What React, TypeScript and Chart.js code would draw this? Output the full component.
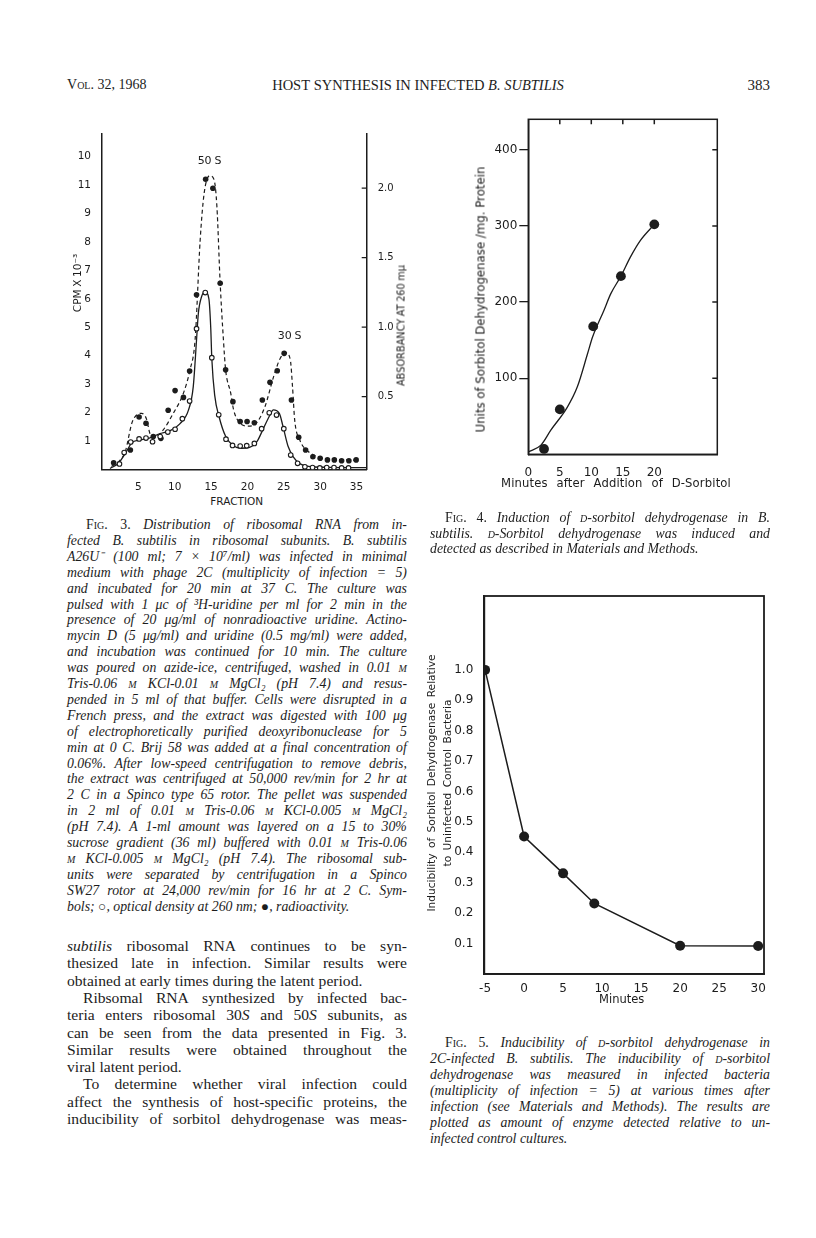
import React, { useEffect, useRef } from "react";
import { Chart, registerables } from "chart.js";
Chart.register(...registerables);

// ---------------- Fig. 3 data ----------------
const fig3FilledFraction = [1.6, 3.9, 5.1, 6.05, 7.05, 8.1, 9.1, 10.05, 11.2, 12.05, 13.0, 14.25, 15.25, 16.25, 17.0, 18.0, 19.0, 19.95, 20.95, 22.05, 23.1, 24.1, 25.05, 26.05, 27.05, 28.0, 29.0, 30.0, 31.0, 31.95, 32.95, 33.95, 34.95];
const fig3FilledCpm = [0.23, 0.68, 1.84, 1.62, 1.15, 1.09, 2.08, 2.77, 2.53, 3.46, 6.14, 10.21, 9.89, 6.55, 3.5, 2.38, 1.68, 1.68, 1.64, 2.44, 3.06, 3.47, 4.08, 2.44, 1.13, 0.68, 0.44, 0.39, 0.33, 0.33, 0.3, 0.3, 0.33];
const fig3OpenFraction = [2.4, 3.05, 3.95, 5.1, 6.05, 6.95, 8.0, 9.05, 10.05, 11.05, 12.05, 13.0, 14.2, 15.1, 16.05, 17.05, 17.95, 19.0, 19.9, 20.95, 21.95, 23.0, 24.0, 25.0, 25.95, 26.9, 27.9, 28.95, 29.95, 30.9, 31.9, 32.95, 33.9];
const fig3OpenAbs = [0.19, 0.59, 0.96, 1.07, 1.1, 0.97, 1.15, 1.31, 1.41, 1.78, 2.4, 4.95, 6.22, 3.93, 1.92, 1.06, 0.84, 0.82, 0.83, 0.91, 1.43, 1.99, 1.91, 1.43, 0.5, 0.21, 0.09, 0.06, 0.05, 0.06, 0.06, 0.05, 0.05];
// hand-drawn curves
const fig3DashX = [1.3, 2.4, 3.2, 4.1, 4.8, 5.45, 6.1, 6.6, 7.2, 8.4, 9.8, 11.2, 12.1, 12.8, 13.5, 14.05, 14.8, 15.4, 15.8, 16.25, 16.7, 17.0, 17.7, 18.1, 19.0, 20.1, 21.2, 22.4, 23.6, 24.5, 25.3, 25.9, 26.2, 26.5, 27.2, 28.4, 30.0, 32.0, 35.0];
const fig3DashY = [0.1, 0.3, 0.62, 1.62, 1.92, 1.97, 1.78, 1.25, 1.12, 1.38, 1.97, 2.68, 3.5, 4.55, 8.07, 9.72, 10.33, 10.2, 9.25, 6.55, 4.55, 3.5, 2.68, 2.09, 1.62, 1.52, 1.62, 2.2, 3.26, 3.9, 4.1, 3.85, 2.9, 1.73, 1.03, 0.62, 0.42, 0.35, 0.32];
const fig3SolidX = [1.1, 2.25, 3.2, 4.1, 5.2, 6.5, 7.9, 9.35, 10.7, 11.9, 12.55, 13.0, 13.25, 13.7, 14.2, 14.7, 14.95, 15.1, 15.5, 16.1, 17.0, 18.1, 19.2, 20.3, 21.3, 22.2, 23.1, 23.55, 24.4, 24.9, 25.6, 26.3, 27.2, 28.9, 31, 34, 36.4];
const fig3SolidY = [0.03, 0.21, 0.56, 0.93, 1.03, 1.1, 1.25, 1.36, 1.6, 2.09, 2.91, 4.55, 5.49, 6.08, 6.25, 6.0, 5.0, 3.9, 2.6, 1.85, 1.16, 0.82, 0.74, 0.77, 0.97, 1.44, 1.91, 2.09, 1.96, 1.5, 0.8, 0.44, 0.2, 0.09, 0.07, 0.06, 0.06];
const fig3XTicks = [5, 10, 15, 20, 25, 30, 35];
const fig3YTicks = [1, 2, 3, 4, 5, 6, 7, 8, 9, 10, 11];
const fig3YTickLabels = ["1", "2", "3", "4", "5", "6", "7", "8", "9", "11", "10"];
const fig3RightTicks = [0.5, 1.0, 1.5, 2.0];
const fig3RightTickLabels = ["0.5", "1.0", "1.5", "2.0"];

// ---------------- Fig. 4 data ----------------
const fig4Minutes = [2.5, 5, 10.3, 14.7, 20];
const fig4Units = [7, 59, 168, 234, 302];
const fig4CurveX = [0, 2, 3.6, 6.2, 7.8, 9.4, 10.2, 12, 13.1, 14.7, 16.2, 17.8, 20];
const fig4CurveY = [3, 12, 32, 62, 89, 132, 154, 189, 211, 234, 259, 281, 302];
const fig4XTicks = [0, 5, 10, 15, 20];
const fig4YTicks = [100, 200, 300, 400];
const fig4TopTicks = [5, 10, 15, 20];

// ---------------- Fig. 5 data ----------------
const fig5Minutes = [-5, 0, 5, 9, 20, 30];
const fig5Inducibility = [1.0, 0.452, 0.331, 0.232, 0.093, 0.092];
const fig5XTicks = [-5, 0, 5, 10, 15, 20, 25, 30];
const fig5YTicks = [0.1, 0.2, 0.3, 0.4, 0.5, 0.6, 0.7, 0.8, 0.9, 1.0];
const fig5YTickLabels = ["0.1", "0.2", "0.3", "0.4", "0.5", "0.6", "0.7", "0.8", "0.9", "1.0"];

// ---------------- page text ----------------
const fig3Caption = [
  "_F^ig^. 3._ Distribution of ribosomal RNA from in-",
  "fected B. subtilis in ribosomal subunits. B. subtilis",
  "A26U⁻ (100 ml; 7 × 10⁷/ml) was infected in minimal",
  "medium with phage 2C (multiplicity of infection = 5)",
  "and incubated for 20 min at 37 C. The culture was",
  "pulsed with 1 μc of ³H-uridine per ml for 2 min in the",
  "presence of 20 μg/ml of nonradioactive uridine. Actino-",
  "mycin D (5 μg/ml) and uridine (0.5 mg/ml) were added,",
  "and incubation was continued for 10 min. The culture",
  "was poured on azide-ice, centrifuged, washed in 0.01 ^m^",
  "Tris-0.06 ^m^ KCl-0.01 ^m^ MgCl₂ (pH 7.4) and resus-",
  "pended in 5 ml of that buffer. Cells were disrupted in a",
  "French press, and the extract was digested with 100 μg",
  "of electrophoretically purified deoxyribonuclease for 5",
  "min at 0 C. Brij 58 was added at a final concentration of",
  "0.06%. After low-speed centrifugation to remove debris,",
  "the extract was centrifuged at 50,000 rev/min for 2 hr at",
  "2 C in a Spinco type 65 rotor. The pellet was suspended",
  "in 2 ml of 0.01 ^m^ Tris-0.06 ^m^ KCl-0.005 ^m^ MgCl₂",
  "(pH 7.4). A 1-ml amount was layered on a 15 to 30%",
  "sucrose gradient (36 ml) buffered with 0.01 ^m^ Tris-0.06",
  "^m^ KCl-0.005 ^m^ MgCl₂ (pH 7.4). The ribosomal sub-",
  "units were separated by centrifugation in a Spinco",
  "SW27 rotor at 24,000 rev/min for 16 hr at 2 C. Sym-",
  "bols; ○, optical density at 260 nm; ●, radioactivity.",
];
const bodyText = [
  "_subtilis_ ribosomal RNA continues to be syn-",
  "thesized late in infection. Similar results were",
  "obtained at early times during the latent period.",
  "Ribsomal RNA synthesized by infected bac-",
  "teria enters ribosomal 30_S_ and 50_S_ subunits, as",
  "can be seen from the data presented in Fig. 3.",
  "Similar results were obtained throughout the",
  "viral latent period.",
  "To determine whether viral infection could",
  "affect the synthesis of host-specific proteins, the",
  "inducibility of sorbitol dehydrogenase was meas-",
];
const bodyIndent = [false, false, false, true, false, false, false, false, true, false, false];
const bodyLast = [false, false, true, false, false, false, false, true, false, false, false];
const fig4Caption = [
  "_F^ig^. 4._ Induction of ^d^-sorbitol dehydrogenase in B.",
  "subtilis. ^d^-Sorbitol dehydrogenase was induced and",
  "detected as described in Materials and Methods.",
];
const fig5Caption = [
  "_F^ig^. 5._ Inducibility of ^d^-sorbitol dehydrogenase in",
  "2C-infected B. subtilis. The inducibility of ^d^-sorbitol",
  "dehydrogenase was measured in infected bacteria",
  "(multiplicity of infection = 5) at various times after",
  "infection (see Materials and Methods). The results are",
  "plotted as amount of enzyme detected relative to un-",
  "infected control cultures.",
];

const INK = "#1c1c1c";
const SERIF = '"Liberation Serif", "Times New Roman", serif';
const SANS = '"DejaVu Sans", "Liberation Sans", sans-serif';

type Piece = { t: string; it: boolean; sc: boolean };
function parseStyled(s: string): Piece[][] {
  const words: Piece[][] = [];
  let cur: Piece[] = [];
  let it = false, sc = false, buf = "";
  const flush = () => { if (buf) { cur.push({ t: buf, it, sc }); buf = ""; } };
  for (const ch of s) {
    if (ch === "_") { flush(); it = !it; continue; }
    if (ch === "^") { flush(); sc = !sc; continue; }
    if (ch === " ") { flush(); if (cur.length) { words.push(cur); cur = []; } continue; }
    buf += ch;
  }
  flush();
  if (cur.length) words.push(cur);
  return words;
}

function Words({ text, italic }: { text: string; italic: boolean }) {
  const words = parseStyled(text);
  return (
    <>
      {words.map((w, i) => (
        <span key={i}>
          {w.map((p, j) => (
            <span key={j} style={{ fontStyle: italic !== p.it ? "italic" : "normal", fontVariant: p.sc ? "small-caps" : "normal" }}>{p.t}</span>
          ))}
        </span>
      ))}
    </>
  );
}

function TextLine(props: { left: number; width: number; y: number; text: string; size: number; italic?: boolean; mode?: "between" | "start" | "center" | "end"; font?: string; weight?: number; rotate?: boolean; spacing?: number }) {
  const { left, width, y, text, size, italic = false, mode = "start", font = SERIF, weight = 400, rotate = false, spacing = 0 } = props;
  const H = Math.round(size * 1.3);
  const jc = mode === "between" ? "space-between" : mode === "center" ? "center" : mode === "end" ? "flex-end" : "flex-start";
  const style: React.CSSProperties = {
    position: "absolute", left, top: y - H / 2, width, height: H, lineHeight: `${H}px`,
    fontFamily: font, fontSize: size, fontWeight: weight, color: INK, whiteSpace: "nowrap",
    display: "flex", justifyContent: jc, gap: mode === "between" ? 0 : "0.25em", letterSpacing: spacing,
  };
  if (rotate) { style.transform = "rotate(-90deg)"; style.transformOrigin = "center center"; }
  return <div style={style}><Words text={text} italic={italic} /></div>;
}

function makeFramePlugin(o: { frame?: boolean; rightTicks?: number[]; rightScale?: string; topTicks?: number[]; len?: number; width?: number }) {
  return {
    id: "frameTicks",
    afterDatasetsDraw(chart: any) {
      const { ctx, chartArea: a } = chart;
      ctx.save();
      ctx.strokeStyle = INK;
      ctx.lineWidth = o.width ?? 1.5;
      if (o.frame) ctx.strokeRect(a.left, a.top, a.right - a.left, a.bottom - a.top);
      const len = o.len ?? 5;
      ctx.beginPath();
      if (o.rightTicks) {
        const sc = chart.scales[o.rightScale ?? "y"];
        for (const v of o.rightTicks) { const py = sc.getPixelForValue(v); ctx.moveTo(a.right, py); ctx.lineTo(a.right - len, py); }
      }
      if (o.topTicks) {
        const sc = chart.scales.x;
        for (const v of o.topTicks) { const px = sc.getPixelForValue(v); ctx.moveTo(px, a.top); ctx.lineTo(px, a.top + len); }
      }
      ctx.stroke();
      ctx.restore();
    },
  };
}

const zip = (xs: number[], ys: number[]) => xs.map((x, i) => ({ x, y: ys[i] }));
const fixTicks = (vals: number[]) => (s: any) => { s.ticks = vals.map((v) => ({ value: v })); };
const labelFrom = (vals: number[], labels: string[]) => (v: any) => { const i = vals.indexOf(Number(v)); return i >= 0 ? labels[i] : ""; };

function ChartBox({ left, top, width, height, make }: { left: number; top: number; width: number; height: number; make: () => any }) {
  const ref = useRef<HTMLCanvasElement>(null);
  useEffect(() => {
    const chart = new Chart(ref.current as HTMLCanvasElement, make());
    return () => chart.destroy();
  }, []);
  return <canvas ref={ref} width={width} height={height} style={{ position: "absolute", left, top, width, height }} />;
}

const tickFont = (size: number) => ({ family: SANS, size, weight: "normal" as const });

function fig3Config() {
  return {
    type: "line",
    data: {
      datasets: [
        { data: zip(fig3OpenFraction, fig3OpenAbs), showLine: false, pointRadius: 2.3, pointBackgroundColor: "#fff", pointBorderColor: INK, pointBorderWidth: 1.1 },
        { data: zip(fig3FilledFraction, fig3FilledCpm), showLine: false, pointRadius: 2.8, pointBackgroundColor: INK, pointBorderColor: INK, pointBorderWidth: 0 },
        { data: zip(fig3DashX, fig3DashY), borderColor: INK, borderWidth: 1.2, borderDash: [4, 3], pointRadius: 0, cubicInterpolationMode: "monotone", fill: false },
        { data: zip(fig3SolidX, fig3SolidY), borderColor: INK, borderWidth: 1.3, pointRadius: 0, cubicInterpolationMode: "monotone", fill: false },
      ],
    },
    options: {
      responsive: false, animation: false, devicePixelRatio: 1,
      layout: { padding: { top: 14, left: 0, right: 0, bottom: 0 } },
      plugins: { legend: { display: false }, tooltip: { enabled: false } },
      scales: {
        x: {
          type: "linear", min: 0, max: 36.4, afterBuildTicks: fixTicks(fig3XTicks), afterFit: (s: any) => { s.height = 20.7; },
          grid: { display: false }, border: { display: true, color: INK, width: 1.5 },
          ticks: { font: tickFont(10.5), color: INK, padding: 4, maxRotation: 0, autoSkip: false },
        },
        y: {
          type: "linear", min: 0, max: 11.8, afterBuildTicks: fixTicks(fig3YTicks), afterFit: (s: any) => { s.width = 62; },
          grid: { display: false }, border: { display: true, color: INK, width: 1.5 },
          ticks: { font: tickFont(10.5), color: INK, padding: 3, autoSkip: false, callback: labelFrom(fig3YTicks, fig3YTickLabels) },
        },
        y1: {
          type: "linear", position: "right", min: -0.023, max: 2.39, afterBuildTicks: fixTicks(fig3RightTicks), afterFit: (s: any) => { s.width = 35.3; },
          grid: { display: false }, border: { display: true, color: INK, width: 1.5 },
          ticks: { font: tickFont(10), color: INK, padding: 3, autoSkip: false, callback: labelFrom(fig3RightTicks, fig3RightTickLabels) },
        },
      },
    },
    plugins: [makeFramePlugin({ rightTicks: fig3RightTicks, rightScale: "y1", len: 5, width: 1.3 })],
  };
}

function fig4Config() {
  return {
    type: "line",
    data: {
      datasets: [
        { data: zip(fig4Minutes, fig4Units), showLine: false, pointRadius: 4.9, pointBackgroundColor: INK, pointBorderColor: INK, pointBorderWidth: 0 },
        { data: zip(fig4CurveX, fig4CurveY), borderColor: INK, borderWidth: 1.3, pointRadius: 0, cubicInterpolationMode: "monotone", fill: false },
      ],
    },
    options: {
      responsive: false, animation: false, devicePixelRatio: 1,
      layout: { padding: { top: 14.3, left: 0, right: 12.7, bottom: 0 } },
      plugins: { legend: { display: false }, tooltip: { enabled: false } },
      scales: {
        x: {
          type: "linear", min: 0, max: 30, afterBuildTicks: fixTicks(fig4XTicks), afterFit: (s: any) => { s.height = 22.7; },
          grid: { display: false }, border: { display: true, color: INK, width: 1.5 },
          ticks: { font: tickFont(12), color: INK, padding: 3, maxRotation: 0, autoSkip: false },
        },
        y: {
          type: "linear", min: 0, max: 440, afterBuildTicks: fixTicks(fig4YTicks), afterFit: (s: any) => { s.width = 68.3; },
          grid: { display: true, drawOnChartArea: false, drawTicks: true, tickLength: 9, color: INK, lineWidth: 1.3 },
          border: { display: true, color: INK, width: 1.5 },
          ticks: { font: tickFont(12), color: INK, padding: 2, autoSkip: false },
        },
      },
    },
    plugins: [makeFramePlugin({ frame: true, rightTicks: fig4YTicks, topTicks: fig4TopTicks, len: 5, width: 1.5 })],
  };
}

function fig5Config() {
  return {
    type: "line",
    data: {
      datasets: [
        { data: zip(fig5Minutes, fig5Inducibility), borderColor: INK, borderWidth: 1.5, tension: 0, pointRadius: 5, pointBackgroundColor: INK, pointBorderColor: INK, pointBorderWidth: 0, fill: false },
      ],
    },
    options: {
      responsive: false, animation: false, devicePixelRatio: 1,
      layout: { padding: { top: 11, left: 0, right: 16, bottom: 0 } },
      plugins: { legend: { display: false }, tooltip: { enabled: false } },
      scales: {
        x: {
          type: "linear", min: -5.1, max: 30.75, afterBuildTicks: fixTicks(fig5XTicks), afterFit: (s: any) => { s.height = 26; },
          grid: { display: false }, border: { display: true, color: INK, width: 1.8 },
          ticks: { font: tickFont(12), color: INK, padding: 0, maxRotation: 0, autoSkip: false },
        },
        y: {
          type: "linear", min: 0, max: 1.243, afterBuildTicks: fixTicks(fig5YTicks), afterFit: (s: any) => { s.width = 64.3; },
          grid: { display: false }, border: { display: true, color: INK, width: 1.8 },
          ticks: { font: tickFont(12), color: INK, padding: 3, autoSkip: false, callback: labelFrom(fig5YTicks, fig5YTickLabels) },
        },
      },
    },
    plugins: [makeFramePlugin({ frame: true, width: 1.8 })],
  };
}

export default function App() {
  const capSize = 13.8;
  const capLeft = 67, capW = 340;
  const rLeft = 430, rW = 340;
  return (
    <div style={{ position: "absolute", left: 0, top: 0, width: 816, height: 1238, background: "#fff", overflow: "hidden" }}>
      {/* running head */}
      <TextLine left={67} width={120} y={85} text="V^ol^. 32, 1968" size={14} />
      <TextLine left={218} width={400} y={85} text="HOST SYNTHESIS IN INFECTED _B. SUBTILIS_" size={14.5} mode="center" />
      <TextLine left={700} width={70} y={85} text="383" size={15} mode="end" />

      {/* Fig 3 */}
      <ChartBox left={40} top={120} width={362} height={370} make={fig3Config} />
      <TextLine left={179.5} width={60} y={160.7} text="50 S" size={11} font={SANS} mode="center" />
      <TextLine left={259.7} width={60} y={335.7} text="30 S" size={11} font={SANS} mode="center" />
      <TextLine left={186.7} width={100} y={501} text="FRACTION" size={10.5} font={SANS} mode="center" />
      <TextLine left={27} width={100} y={283} text="CPM X 10⁻³" size={10.5} font={SANS} mode="center" rotate />
      <TextLine left={331} width={140} y={325} text="ABSORBANCY AT 260 mμ" size={9.8} font={SANS} mode="center" rotate />

      {/* Fig 3 caption */}
      {fig3Caption.map((t, i) => (
        <TextLine key={"c3" + i} left={i === 0 ? capLeft + 19 : capLeft} width={i === 0 ? capW - 19 : capW} y={525 + i * 15.9} text={t} size={capSize} italic mode={i === fig3Caption.length - 1 ? "start" : "between"} />
      ))}

      {/* body text */}
      {bodyText.map((t, i) => (
        <TextLine key={"b" + i} left={bodyIndent[i] ? capLeft + 16 : capLeft} width={bodyIndent[i] ? capW - 16 : capW} y={946 + i * 17.3} text={t} size={15.6} mode={bodyLast[i] ? "start" : "between"} />
      ))}

      {/* Fig 4 */}
      <ChartBox left={460} top={105} width={270} height={372} make={fig4Config} />
      <TextLine left={348} width={266} y={299} text="Units of Sorbitol Dehydrogenase /mg. Protein" size={11.8} font={SANS} mode="between" rotate />
      <TextLine left={501} width={230} y={483.3} text="Minutes after Addition of D-Sorbitol" size={11.6} font={SANS} mode="between" spacing={0.15} />
      {fig4Caption.map((t, i) => (
        <TextLine key={"c4" + i} left={i === 0 ? rLeft + 15 : rLeft} width={i === 0 ? rW - 15 : rW} y={517.7 + i * 15.8} text={t} size={capSize} italic mode={i === fig4Caption.length - 1 ? "start" : "between"} />
      ))}

      {/* Fig 5 */}
      <ChartBox left={420} top={585} width={360} height={415} make={fig5Config} />
      <TextLine left={302} width={257} y={783} text="Inducibility of Sorbitol Dehydrogenase Relative" size={10.6} font={SANS} mode="between" rotate />
      <TextLine left={362.5} width={167} y={783} text="to Uninfected Control Bacteria" size={10.6} font={SANS} mode="between" rotate />
      <TextLine left={571.7} width={100} y={999} text="Minutes" size={11.5} font={SANS} mode="center" />
      {fig5Caption.map((t, i) => (
        <TextLine key={"c5" + i} left={i === 0 ? rLeft + 15 : rLeft} width={i === 0 ? rW - 15 : rW} y={1043 + i * 16} text={t} size={capSize} italic mode={i === fig5Caption.length - 1 ? "start" : "between"} />
      ))}
    </div>
  );
}
